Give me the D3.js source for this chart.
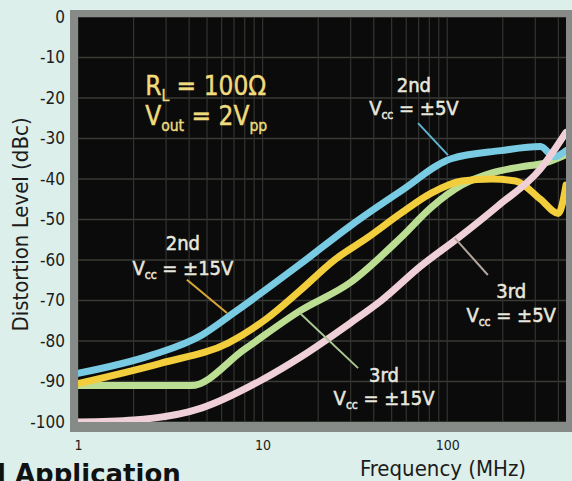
<!DOCTYPE html>
<html>
<head>
<meta charset="utf-8">
<script src="https://cdn.jsdelivr.net/npm/d3@7"></script>
<style>
  body { margin: 0; background: #dcefea; }
  svg { display: block; }
</style>
</head>
<body>
<div id="chart"></div>
<script>
// distortion curves: [frequency (MHz), level (dBc)]
const second5V = [[1, -88], [2.5, -83.5], [4.7, -78.5], [7, -73], [16, -61], [30, -51.5], [56, -43],
  [105, -35], [195, -33], [320, -32], [380, -34.5], [440, -33]];
const second15V = [[1, -90.5], [2.8, -85.5], [6.5, -80.5], [10.5, -74.5], [16, -67.5], [24.5, -60], [37, -54.5],
  [56, -48.5], [82, -43.5], [120, -40.5], [175, -40], [235, -40.5], [320, -45], [400, -48.5], [440, -41.5]];
const third15V = [[1, -91], [4.1, -91], [8, -82], [16, -72.5], [30, -65.5], [56, -54.5], [82, -47],
  [120, -41.5], [175, -38.5], [250, -37], [340, -36], [440, -34]];
const third5V = [[1, -100], [2, -99.5], [4.7, -96.5], [10, -89.5], [16, -84], [30, -75.5], [44, -70],
  [72, -61.5], [115, -54.5], [190, -46.5], [320, -37.5], [440, -28.5]];

const yTicks = [0, -10, -20, -30, -40, -50, -60, -70, -80, -90, -100];
const xTicks = [1, 10, 100];

// labels placed in data units: [freq, dB] of the text anchor
const labels = [
  { f: 66, db: -18.5, parts: [["2nd"]] },
  { f: 66, db: -24.2, parts: [["V"], ["cc", 1], [" = ±5V"]] },
  { f: 3.7, db: -57.5, parts: [["2nd"]] },
  { f: 3.7, db: -63.7, parts: [["V"], ["cc", 1], [" = ±15V"]] },
  { f: 222, db: -69.4, parts: [["3rd"]] },
  { f: 222, db: -75.3, parts: [["V"], ["cc", 1], [" = ±5V"]] },
  { f: 45.5, db: -90.1, parts: [["3rd"]] },
  { f: 45.5, db: -95.8, parts: [["V"], ["cc", 1], [" = ±15V"]] }
];
// leader lines: from curve to label
const leaders = [
  { from: [101, -34.1], to: [69.5, -26.2], color: "#5fb3cf" },
  { from: [6.41, -73.1], to: [3.89, -64.9], color: "#d8a73a" },
  { from: [110, -54.6], to: [166, -63.7], color: "#b3a49e" },
  { from: [15.9, -73.1], to: [32.9, -86.7], color: "#a9c792" }
];

const W = 572, H = 481;
const frame = { left: 70, top: 10, right: 572, bottom: 432 };
const plot = { left: 78, top: 17, right: 566, bottom: 422 };
const NARROW = "'Liberation Sans Narrow', 'DejaVu Sans Condensed', 'Arial Narrow', sans-serif";

const svg = d3.select("#chart").append("svg")
  .attr("width", W).attr("height", H);

svg.append("rect").attr("width", W).attr("height", H).attr("fill", "#dcefea");

const x = d3.scaleLog().domain([1, 440]).range([plot.left, plot.right]);
const y = d3.scaleLinear().domain([0, -100]).range([plot.top, plot.bottom]);

// gray frame and black screen
svg.append("rect")
  .attr("x", frame.left).attr("y", frame.top)
  .attr("width", frame.right - frame.left).attr("height", frame.bottom - frame.top)
  .attr("fill", "#868b88");
svg.append("rect")
  .attr("x", plot.left).attr("y", plot.top)
  .attr("width", plot.right - plot.left).attr("height", plot.bottom - plot.top)
  .attr("fill", "#0b0b0b");

svg.append("clipPath").attr("id", "clip")
  .append("rect")
  .attr("x", plot.left).attr("y", plot.top)
  .attr("width", plot.right - plot.left).attr("height", plot.bottom - plot.top);

// grid
const grid = svg.append("g").attr("clip-path", "url(#clip)");
grid.selectAll(".hg").data(yTicks).join("line")
  .attr("x1", plot.left).attr("x2", plot.right)
  .attr("y1", d => y(d)).attr("y2", d => y(d))
  .attr("stroke", "#3a3a36").attr("stroke-width", 1.5);
grid.selectAll(".vg").data(x.ticks()).join("line")
  .attr("y1", plot.top).attr("y2", plot.bottom)
  .attr("x1", d => x(d)).attr("x2", d => x(d))
  .attr("stroke", "#33332f").attr("stroke-width", 1.2);

// curves
const line = d3.line()
  .x(d => x(d[0]))
  .y(d => y(d[1]))
  .curve(d3.curveMonotoneX);

const curves = [
  { data: third15V, color: "#bcde92" },
  { data: second15V, color: "#f2cd3c" },
  { data: second5V, color: "#79cbe3" },
  { data: third5V, color: "#efd0d8" }
];

svg.append("g").attr("clip-path", "url(#clip)")
  .selectAll("path").data(curves).join("path")
  .attr("d", d => line(d.data))
  .attr("fill", "none")
  .attr("stroke", d => d.color)
  .attr("stroke-width", 7)
  .attr("stroke-linecap", "round")
  .attr("stroke-linejoin", "round");

// leader lines
svg.append("g").selectAll("line").data(leaders).join("line")
  .attr("x1", d => x(d.from[0])).attr("y1", d => y(d.from[1]))
  .attr("x2", d => x(d.to[0])).attr("y2", d => y(d.to[1]))
  .attr("stroke", d => d.color).attr("stroke-width", 2);

function richText(sel, parts, size) {
  parts.forEach((p, i) => {
    const t = sel.append("tspan").text(p[0]);
    if (p[1]) t.attr("font-size", size * 0.6).attr("dy", size * 0.22);
    else if (i > 0 && parts[i - 1][1]) t.attr("dy", -size * 0.22);
  });
}

// curve labels
labels.forEach(l => {
  const t = svg.append("text")
    .attr("x", x(l.f)).attr("y", y(l.db))
    .attr("text-anchor", "middle")
    .attr("font-family", NARROW).attr("font-size", 20)
    .attr("fill", "#e8e8de")
    .attr("stroke", "#e8e8de").attr("stroke-width", 0.5);
  richText(t, l.parts, 20);
});

// test conditions
const cond = [
  { f: 2.31, db: -19.3, parts: [["R"], ["L", 1], [" = 100Ω"]] },
  { f: 2.31, db: -26.7, parts: [["V"], ["out", 1], [" = 2V"], ["pp", 1]] }
];
cond.forEach(c => {
  const t = svg.append("text")
    .attr("x", x(c.f)).attr("y", y(c.db))
    .attr("font-family", NARROW).attr("font-size", 26)
    .attr("fill", "#efdc7c")
    .attr("stroke", "#efdc7c").attr("stroke-width", 0.4);
  richText(t, c.parts, 26);
});

// axes
const yAxis = svg.append("g")
  .attr("transform", `translate(${frame.left},0)`)
  .call(d3.axisLeft(y).tickValues(yTicks).tickFormat(d => String(d)).tickSize(0).tickPadding(5));
yAxis.select(".domain").remove();
yAxis.selectAll("text")
  .attr("font-family", NARROW).attr("font-size", 17).attr("fill", "#1c1c1c");

const xAxis = svg.append("g")
  .attr("transform", `translate(0,${frame.bottom})`)
  .call(d3.axisBottom(x).tickValues(xTicks).tickFormat(d3.format("d")).tickSize(0).tickPadding(8));
xAxis.select(".domain").remove();
xAxis.selectAll("text")
  .attr("font-family", NARROW).attr("font-size", 14).attr("fill", "#1c1c1c");

svg.append("text")
  .attr("transform", `translate(28,${(plot.top + plot.bottom) / 2 + 5}) rotate(-90)`)
  .attr("text-anchor", "middle")
  .attr("font-family", NARROW).attr("font-size", 22)
  .attr("fill", "#1c1c1c")
  .text("Distortion Level (dBc)");

svg.append("text")
  .attr("x", 443).attr("y", 476)
  .attr("text-anchor", "middle")
  .attr("font-family", NARROW).attr("font-size", 22)
  .attr("fill", "#1c1c1c")
  .text("Frequency (MHz)");

// page heading cut off at the bottom of the scan
svg.append("text")
  .attr("x", -3).attr("y", 483)
  .attr("font-family", "'DejaVu Sans', sans-serif").attr("font-size", 26).attr("font-weight", "bold")
  .attr("fill", "#111")
  .text("l Application");
</script>
</body>
</html>
